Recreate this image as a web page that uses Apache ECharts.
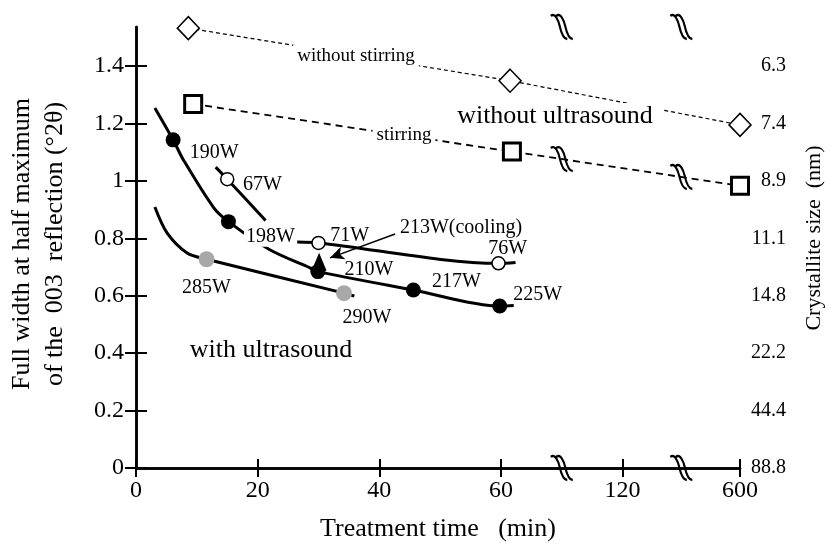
<!DOCTYPE html>
<html>
<head>
<meta charset="utf-8">
<script src="https://cdn.jsdelivr.net/npm/echarts@6.0.0/dist/echarts.min.js"></script>
<style>
  html, body { margin: 0; padding: 0; background: #fff; }
  #chart { width: 831px; height: 545px; }
</style>
</head>
<body>
<div id="chart"></div>
<script>
// tick labels
const timeTicks = [0, 20, 40, 60, 120, 600];
const fwhmTicks = [0, 0.2, 0.4, 0.6, 0.8, 1, 1.2, 1.4];
const crystalliteLabels = ['88.8', '44.4', '22.2', '14.8', '11.1', '8.9', '7.4', '6.3'];

// without ultrasound (dashed)
const noStirTime = [8.6, 61.5, 600];
const noStirFwhm = [1.532, 1.349, 1.195];
const stirTime = [9.4, 61.8, 600];
const stirFwhm = [1.268, 1.102, 0.983];

// with ultrasound: curve vertices, '' = no marker there
const filledTime  = [3.1, 6.1, 7.8, 12.7, 15.2, 22.0, 28.6, 29.9, 45.6, 59.8, 62.1];
const filledFwhm  = [1.254, 1.143, 1.073, 0.909, 0.858, 0.76, 0.697, 0.684, 0.62, 0.564, 0.566];
const filledPower = ['', '190W', '', '', '198W', '', '', '210W', '217W', '225W', ''];

// null time = gap in the curve
const openTime  = [13.1, 15.0, 21.3, null, 26.5, 30.0, 59.6, 62.4];
const openFwhm  = [1.048, 1.006, 0.862, null, 0.787, 0.784, 0.713, 0.716];
const openPower = ['', '67W', '', '', '', '71W', '76W', ''];

const grayTime  = [3.1, 5.1, 8.4, 11.6, 34.2, 35.9];
const grayFwhm  = [0.909, 0.819, 0.749, 0.727, 0.609, 0.599];
const grayPower = ['', '', '', '285W', '290W', ''];

const coolingTime = [30.1];
const coolingFwhm = [0.718];

// broken time axis: minutes -> axis position
const axisKnots = [[0, 0], [70, 70], [120, 80], [600, 99.3]];
const Y_MAX = 1.536;

function interp(v, from, to) {
  for (let i = 1; i < axisKnots.length; i++) {
    const a = axisKnots[i - 1], b = axisKnots[i];
    if (v <= b[from] || i === axisKnots.length - 1) {
      return a[to] + (v - a[from]) * (b[to] - a[to]) / (b[from] - a[from]);
    }
  }
}
const toAxis = t => interp(t, 0, 1);
const fromAxis = v => interp(v, 1, 0);
const X_MAX = toAxis(600);

const font = 'Liberation Serif';
const labelOffsets = {
  '190W': [41, 13], '198W': [42, 15], '210W': [51, -2], '217W': [43, -8], '225W': [38, -11],
  '67W': [36, 6], '71W': [32, -6], '76W': [10, -14],
  '285W': [0, 28], '290W': [23, 25]
};

function curve(times, vals) {
  return times.map((t, i) => t === null ? '-' : [toAxis(t), vals[i]]);
}
function markers(times, vals, powers, size) {
  const out = [];
  powers.forEach((p, i) => {
    if (!p) return;
    const o = labelOffsets[p];
    out.push({
      value: [toAxis(times[i]), vals[i]],
      label: {
        show: true, formatter: p, position: [size / 2 + o[0], size / 2 + o[1]],
        align: 'center', verticalAlign: 'middle',
        color: '#000', fontFamily: font, fontSize: 20, textBorderWidth: 0,
        backgroundColor: p === '198W' ? '#fff' : 'transparent', padding: [0, 2]
      }
    });
  });
  return out;
}

// break marks on both frame lines and on the stirring line
const tickPos = timeTicks.map(toAxis);
const breakPos = [(tickPos[3] + tickPos[4]) / 2, (tickPos[4] + tickPos[5]) / 2];
const s1 = [toAxis(stirTime[1]), stirFwhm[1]], s2 = [toAxis(stirTime[2]), stirFwhm[2]];
const breakMarks = [];
breakPos.forEach(b => {
  breakMarks.push([b, 0], [b, Y_MAX]);
  breakMarks.push([b, s1[1] + (b - s1[0]) * (s2[1] - s1[1]) / (s2[0] - s1[0])]);
});
const wave = 'path://M1,2 C5,-1 8,6 9,10 C10,14 12,21 16,21 M6,2 C10,-1 13,6 14,10 C15,14 17,21 21,21';

const chart = echarts.init(document.getElementById('chart'));
chart.setOption({
  backgroundColor: '#fff',
  animation: false,
  grid: { left: 136, right: 91, top: 27, bottom: 77, outerBoundsMode: 'none' },
  xAxis: [
    {
      type: 'value', min: 0, max: X_MAX,
      name: 'Treatment time   (min)', nameLocation: 'middle', nameGap: 48,
      nameTextStyle: { fontFamily: font, fontSize: 26, color: '#000' },
      axisLine: { lineStyle: { color: '#000', width: 2.5 } },
      axisTick: { inside: true, length: 9, customValues: tickPos, lineStyle: { color: '#000', width: 2 } },
      axisLabel: {
        customValues: tickPos, margin: 11, fontFamily: font, fontSize: 24, color: '#000',
        formatter: v => String(Math.round(fromAxis(v)))
      },
      splitLine: { show: false }
    },
    {
      type: 'value', position: 'top', min: 0, max: X_MAX,
      axisLine: { show: true, lineStyle: { color: '#000', width: 2.5 } },
      axisTick: { inside: true, length: 9, customValues: tickPos, lineStyle: { color: '#000', width: 2 } },
      axisLabel: { show: false },
      splitLine: { show: false }
    }
  ],
  yAxis: [
    {
      type: 'value', min: 0, max: Y_MAX,
      axisLine: { show: true, lineStyle: { color: '#000', width: 2.5 } },
      axisTick: { show: true, inside: true, length: 11, customValues: fwhmTicks, lineStyle: { color: '#000', width: 2 } },
      axisLabel: { customValues: fwhmTicks, margin: 12, fontFamily: font, fontSize: 24, color: '#000' },
      splitLine: { show: false }
    },
    {
      type: 'value', position: 'right', min: 0, max: Y_MAX,
      axisLine: { show: true, lineStyle: { color: '#000', width: 2.5 } },
      axisTick: { show: true, inside: true, length: 11, customValues: fwhmTicks, lineStyle: { color: '#000', width: 2 } },
      axisLabel: {
        customValues: fwhmTicks, align: 'right', margin: 46, fontFamily: font, fontSize: 20, color: '#000',
        formatter: v => crystalliteLabels[fwhmTicks.indexOf(v)]
      },
      splitLine: { show: false }
    }
  ],
  graphic: [
    {
      type: 'text', x: 39, y: 244, rotation: Math.PI / 2, z: 100,
      style: {
        text: 'Full width at half maximum\nof the  003  reflection (°2θ)',
        font: '26px "Liberation Serif"', lineHeight: 33, fill: '#000', align: 'center', verticalAlign: 'middle'
      }
    },
    {
      type: 'text', x: 814, y: 238, rotation: Math.PI / 2, z: 100,
      style: { text: 'Crystallite size  (nm)', font: '22px "Liberation Serif"', fill: '#000', align: 'center', verticalAlign: 'middle' }
    },
    {
      type: 'text', x: 356, y: 56, z: 100,
      style: { text: 'without stirring', font: '19px "Liberation Serif"', fill: '#000', align: 'center', verticalAlign: 'middle', backgroundColor: '#fff', padding: [2, 4] }
    },
    {
      type: 'text', x: 404, y: 135, z: 100,
      style: { text: 'stirring', font: '19px "Liberation Serif"', fill: '#000', align: 'center', verticalAlign: 'middle', backgroundColor: '#fff', padding: [2, 4] }
    },
    {
      type: 'text', x: 555, y: 116, z: 100,
      style: { text: 'without ultrasound', font: '26px "Liberation Serif"', fill: '#000', align: 'center', verticalAlign: 'middle', backgroundColor: '#fff', padding: [0, 10] }
    },
    {
      type: 'text', x: 271, y: 350, z: 100,
      style: { text: 'with ultrasound', font: '26px "Liberation Serif"', fill: '#000', align: 'center', verticalAlign: 'middle' }
    },
    {
      type: 'text', x: 461, y: 228, z: 100,
      style: { text: '213W(cooling)', font: '20px "Liberation Serif"', fill: '#000', align: 'center', verticalAlign: 'middle' }
    }
  ],
  series: [
    {
      name: 'without stirring', type: 'line', clip: false, z: 4,
      data: curve(noStirTime, noStirFwhm),
      symbol: 'diamond', symbolSize: [22, 23],
      itemStyle: { color: '#fff', borderColor: '#000', borderWidth: 1.5 },
      lineStyle: { color: '#000', width: 1.2, type: [4, 3] }
    },
    {
      name: 'stirring', type: 'line', clip: false, z: 4,
      data: curve(stirTime, stirFwhm),
      symbol: 'rect', symbolSize: 17,
      itemStyle: { color: '#fff', borderColor: '#000', borderWidth: 3 },
      lineStyle: { color: '#000', width: 1.8, type: [7, 5] }
    },
    {
      type: 'line', data: curve(filledTime, filledFwhm), showSymbol: false, smooth: 0.3,
      lineStyle: { color: '#000', width: 3 }
    },
    {
      type: 'line', data: curve(openTime, openFwhm), showSymbol: false, smooth: 0.3,
      lineStyle: { color: '#000', width: 3 }
    },
    {
      type: 'line', data: curve(grayTime, grayFwhm), showSymbol: false, smooth: 0.3,
      lineStyle: { color: '#000', width: 3 }
    },
    {
      type: 'scatter', z: 5, symbol: 'triangle', symbolSize: [15, 18],
      data: curve(coolingTime, coolingFwhm),
      itemStyle: { color: '#000', opacity: 1 },
      markLine: {
        silent: true, symbol: ['none', 'arrow'], symbolSize: [10, 14],
        lineStyle: { color: '#000', width: 1.5, type: 'solid' },
        label: { show: false },
        data: [[{ coord: [toAxis(42.6), 0.815] }, { coord: [toAxis(31.9), 0.732] }]]
      }
    },
    {
      type: 'scatter', z: 6, symbolSize: 15, data: markers(filledTime, filledFwhm, filledPower, 15),
      itemStyle: { color: '#000', opacity: 1 }
    },
    {
      type: 'scatter', z: 6, symbolSize: 13, data: markers(openTime, openFwhm, openPower, 13),
      itemStyle: { color: '#fff', borderColor: '#000', borderWidth: 1.5, opacity: 1 }
    },
    {
      type: 'scatter', z: 6, symbolSize: 16, data: markers(grayTime, grayFwhm, grayPower, 16),
      itemStyle: { color: '#a8a8a8', opacity: 1 }
    },
    {
      type: 'scatter', z: 7, clip: false, silent: true, symbol: wave, symbolSize: [22, 24],
      data: breakMarks,
      itemStyle: { color: 'none', borderColor: '#000', borderWidth: 2.2, opacity: 1 }
    }
  ]
});
</script>
</body>
</html>
